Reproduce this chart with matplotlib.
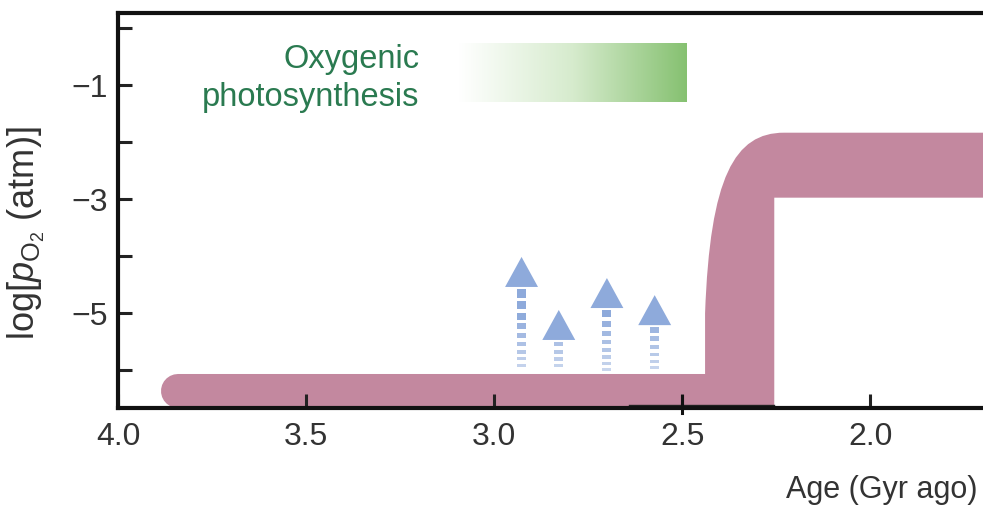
import numpy as np
import matplotlib
matplotlib.use("Agg")
import matplotlib.pyplot as plt
from matplotlib.patches import Polygon, Rectangle, PathPatch
from matplotlib.path import Path
from matplotlib.colors import LinearSegmentedColormap

plt.rcParams["font.family"] = ["Liberation Sans", "DejaVu Sans"]
plt.rcParams["mathtext.fontset"] = "custom"
plt.rcParams["mathtext.rm"] = "Liberation Sans"
plt.rcParams["mathtext.it"] = "Liberation Sans:italic"

# -----------------------
# Data
# -----------------------
# Archean baseline of O2 (flat, low)
archean_age = [3.84, 2.35]
archean_logp = [-6.37, -6.37]

# Great Oxidation step: outline of the rising band (age, log pO2)
step_age = [2.439, 2.439, 2.426, 2.36, 2.229, 1.70, 1.70, 2.255, 2.255, 2.439]
step_logp = [-6.67, -5.00, -2.60, -1.83, -1.83, -1.83, -2.97, -2.97, -6.67, -6.67]
step_codes = [Path.MOVETO, Path.LINETO, Path.CURVE4, Path.CURVE4, Path.CURVE4,
              Path.LINETO, Path.LINETO, Path.LINETO, Path.LINETO, Path.CLOSEPOLY]

# Oxygen "whiffs" (dashed arrows): position and tip height
whiff_age = [2.927, 2.828, 2.700, 2.573]
whiff_tip = [-4.01, -4.94, -4.38, -4.68]
whiff_base = -6.02

# Oxygenic photosynthesis bar
photo_start, photo_end = 3.093, 2.488
photo_low, photo_high = -1.29, -0.27

x_ticks = [4.0, 3.5, 3.0, 2.5, 2.0]
y_major = [-1, -3, -5]
y_minor = [0, -2, -4, -6]

pink = "#c3889f"
blue = "#8eaadb"
dark = "#333333"

# -----------------------
# Figure
# -----------------------
fig = plt.figure(figsize=(9.83, 5.11), dpi=100)
ax = fig.add_axes([118 / 983, 103 / 511, 865 / 983, 395 / 511])
ax.set_xlim(4.0, 1.70)
ax.set_ylim(-6.66, 0.27)

# baseline band with round left cap
ax.plot(archean_age, archean_logp, color=pink, lw=24.5,
        solid_capstyle="round", zorder=1)
step_path = Path(np.column_stack([step_age, step_logp]), step_codes)
ax.add_patch(PathPatch(step_path, facecolor=pink, edgecolor="none", zorder=1))

# small artefact line + crossing tick at 2.5
ax.plot([2.64, 2.255], [-6.61, -6.61], color="#222222", lw=1, zorder=3)
ax.plot([2.5, 2.5], [-6.75, -6.45], color="#111111", lw=2.2, zorder=3,
        clip_on=False)

# dashed arrows, dashes get thinner and paler towards the bottom
px_x = 1 / 377.0
px_y = 1 / 57.0
for xa, tip in zip(whiff_age, whiff_tip):
    head_h = 30 * px_y
    head_w = 16.5 * px_x
    ax.add_patch(Polygon([[xa, tip], [xa - head_w, tip - head_h],
                          [xa + head_w, tip - head_h]],
                         closed=True, facecolor=blue, edgecolor="none", zorder=2))
    y = tip - head_h - 2 * px_y
    while True:
        d = (y - whiff_base) / px_y          # distance to base in px
        h = (2.0 + 0.085 * d) * px_y
        if y - h < whiff_base:
            break
        alpha = 0.45 + 0.55 * min(d / 60.0, 1.0)
        ax.add_patch(Rectangle((xa - 4.5 * px_x, y - h), 9 * px_x, h,
                               facecolor=blue, edgecolor="none",
                               alpha=alpha, zorder=2))
        y -= h + 3.5 * px_y

# photosynthesis gradient bar
cmap = LinearSegmentedColormap.from_list("grn", ["#ffffff", "#d6ebcd", "#86c171"])
grad = np.linspace(0, 1, 256).reshape(1, -1)
ax.imshow(grad, cmap=cmap, aspect="auto", zorder=1,
          extent=[photo_start, photo_end, photo_low, photo_high])
ax.text(3.199, -0.88, "Oxygenic\nphotosynthesis", color="#2a7a50",
        fontsize=23.5, ha="right", va="center", linespacing=1.3)

# -----------------------
# Axes styling
# -----------------------
ax.spines["right"].set_visible(False)
for s in ["left", "bottom", "top"]:
    ax.spines[s].set_linewidth(3)
    ax.spines[s].set_color("#111111")
    ax.spines[s].set_zorder(3)

ax.set_xticks(x_ticks)
ax.set_xticklabels([f"{v:.1f}" for v in x_ticks])
ax.set_yticks(y_major)
ax.set_yticklabels(["\u22121", "\u22123", "\u22125"])
ax.set_yticks(y_minor, minor=True)
ax.tick_params(axis="both", which="both", direction="in", length=10,
               width=2.2, color="#222222", labelsize=23, labelcolor=dark)
ax.tick_params(axis="x", which="minor", bottom=False)
ax.tick_params(axis="x", pad=10)
ax.tick_params(axis="y", pad=7)

ax.set_ylabel(r"log[$\mathit{p}_{\mathrm{O_2}}$ (atm)]", fontsize=26,
              color=dark)
ax.yaxis.set_label_coords(-0.082, 0.443)
fig.text(977 / 983, 1 - 490 / 511, "Age (Gyr ago)", fontsize=22,
         color=dark, ha="right", va="center")

fig.savefig("out.png", dpi=100)
